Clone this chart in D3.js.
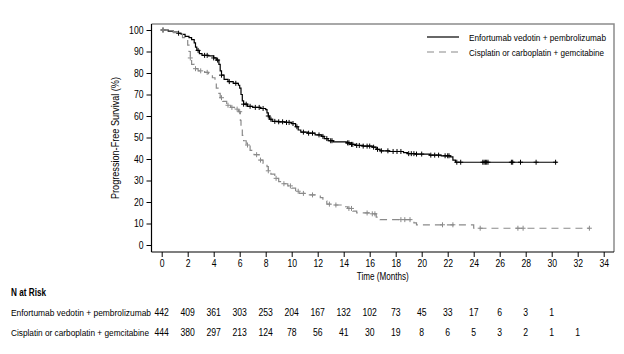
<!DOCTYPE html>
<html>
<head>
<meta charset="utf-8">
<script src="https://cdn.jsdelivr.net/npm/d3@7"></script>
<style>
  body { margin: 0; background: #fff; }
  svg text { font-family: "Liberation Sans", Arial, sans-serif; fill: #000; }
</style>
</head>
<body>
<div id="chart"></div>
<script>
// KM curves, progression-free survival

const width = 624,
    height = 354;

const seriesNames = ["Enfortumab vedotin + pembrolizumab", "Cisplatin or carboplatin + gemcitabine"];

// step points [month, survival %]
const evpSteps = [
  [0, 100], [0.5, 99.5], [0.9, 99], [1.2, 98.5], [1.5, 98], [1.8, 97], [2.1, 96.5], [2.3, 95.5],
  [2.5, 94], [2.6, 92], [2.7, 90.5], [2.9, 89], [3.1, 88.2], [3.6, 88], [4.0, 87], [4.2, 86],
  [4.4, 84], [4.5, 81], [4.6, 79], [4.8, 77], [5.1, 76], [5.5, 75.2], [5.9, 74.3], [6.0, 73],
  [6.1, 70], [6.2, 67], [6.3, 65.5], [6.6, 64.5], [7.0, 64], [7.6, 63.5], [8.0, 63], [8.1, 61.5],
  [8.2, 60], [8.3, 58.5], [8.5, 57.5], [9.0, 57.3], [9.6, 57], [10.0, 56.5], [10.3, 55], [10.5, 53.5],
  [10.7, 52.5], [11.2, 52], [11.8, 51.2], [12.3, 50.5], [12.5, 49.5], [12.8, 48.5], [13.2, 48],
  [14.2, 47.5], [14.5, 46.8], [14.9, 46.3], [15.5, 46], [16.2, 45.5], [16.5, 44.5], [16.8, 43.8],
  [17.5, 43.5], [18.6, 43], [18.9, 42.5], [19.5, 42.3], [20.6, 41.8], [21.5, 41.5], [22.2, 41],
  [22.4, 39.5], [22.6, 38.5], [30.4, 38.5]
];

const chemoSteps = [
  [0, 100], [0.5, 99.5], [0.9, 98.8], [1.3, 98], [1.6, 96.5], [1.8, 95.5], [2.0, 93], [2.1, 90],
  [2.2, 87], [2.3, 84], [2.5, 82], [2.8, 81], [3.3, 80.3], [3.6, 79.2], [3.9, 77.8], [4.1, 75.5],
  [4.2, 73], [4.4, 70.5], [4.5, 68.5], [4.7, 66.8], [5.0, 65], [5.3, 64], [5.6, 63.2], [5.9, 62],
  [6.05, 58], [6.1, 54], [6.2, 51], [6.3, 48.5], [6.5, 46.5], [6.8, 44], [7.1, 42], [7.5, 39.5],
  [7.8, 38], [8.1, 36.5], [8.2, 34.5], [8.4, 33], [8.7, 31], [9.0, 29.5], [9.3, 28.5], [9.7, 27.5],
  [10.0, 26.5], [10.3, 25], [10.6, 24], [11.2, 23.3], [12.2, 22], [12.4, 20.5], [12.7, 19],
  [13.2, 18.6], [13.8, 17.8], [14.3, 17], [14.7, 15.8], [15.0, 14.9], [16.2, 14.5], [16.5, 13],
  [16.8, 11.8], [19.2, 11.5], [19.4, 10.3], [19.6, 9.4], [24.0, 7.8], [32.9, 7.8]
];

// censored times (months)
const evpCensor = [0.1, 1.3, 2.8, 3.3, 3.5, 4.0, 4.3, 4.6, 5.2, 5.7, 6.3, 6.5, 6.8, 7.2, 7.5, 7.8,
  8.2, 8.4, 8.7, 9.0, 9.3, 9.6, 9.8, 10.1, 10.4, 10.9, 11.3, 11.6, 12.1, 12.4, 12.7, 13.0, 13.1,
  14.3, 14.4, 14.6, 14.7, 15.0, 15.2, 15.5, 15.8, 16.0, 16.3, 16.6, 16.9, 17.4, 17.8, 18.1, 18.4,
  19.0, 19.2, 19.4, 19.6, 20.0, 20.7, 21.0, 21.3, 21.8, 22.0, 22.1, 22.7, 23.0, 24.7, 24.8, 24.9,
  25.0, 25.1, 26.9, 27.0, 27.6, 28.8, 30.3];

const chemoCensor = [0.1, 2.2, 2.6, 3.0, 3.5, 4.6, 5.1, 5.4, 5.8, 6.0, 6.6, 7.3, 7.6, 8.2, 8.8,
  9.4, 9.9, 10.5, 10.9, 11.6, 12.9, 13.4, 14.4, 14.6, 15.8, 16.2, 16.4, 18.4, 18.7, 19.1, 21.6,
  22.4, 24.5, 27.4, 27.8, 32.9];

const riskTimes = d3.range(0, 34, 2);
const evpRisk = [442, 409, 361, 303, 253, 204, 167, 132, 102, 73, 45, 33, 17, 6, 3, 1];
const chemoRisk = [444, 380, 297, 213, 124, 78, 56, 41, 30, 19, 8, 6, 5, 3, 2, 1, 1];

const xTicks = d3.range(0, 35, 2);
const yTicks = d3.range(0, 101, 10);

const svg = d3.select("#chart")
    .append("svg")
    .attr("width", width)
    .attr("height", height);

const frame = { left: 151.5, right: 614, top: 24, bottom: 252 };

const x = d3.scaleLinear()
    .domain([0, 34])
    .range([161.7, 603.7]);

const y = d3.scaleLinear()
    .domain([0, 100])
    .range([245, 30]);

// squeeze a text to a narrow look (original uses a condensed face)
function narrow(sel, len) {
  sel.attr("textLength", len).attr("lengthAdjust", "spacingAndGlyphs");
}

// box (top & right in grey)
svg.append("path")
    .attr("d", `M${frame.left},${frame.top}H${frame.right}V${frame.bottom}`)
    .attr("fill", "none")
    .attr("stroke", "#8c8c8c")
    .attr("stroke-width", 1.5);

// axes
const xAxis = svg.append("g")
    .attr("transform", `translate(0,${frame.bottom})`)
    .call(d3.axisBottom(x).tickValues(xTicks).tickSize(5).tickPadding(3));
xAxis.select(".domain").attr("d", `M${frame.left},0H${frame.right}`).attr("stroke-width", 1.2);

const yAxis = svg.append("g")
    .attr("transform", `translate(${frame.left},0)`)
    .call(d3.axisLeft(y).tickValues(yTicks).tickSize(5).tickPadding(3));
yAxis.select(".domain").attr("d", `M0,${frame.top}V${frame.bottom}`).attr("stroke-width", 1.2);

svg.selectAll(".tick text")
    .attr("font-size", 10)
    .style("font-family", null)
    .each(function() {
      const t = d3.select(this);
      narrow(t, t.text().length * 4.8);
    });

svg.append("text")
    .attr("x", (frame.left + frame.right) / 2)
    .attr("y", 280)
    .attr("text-anchor", "middle")
    .attr("font-size", 10)
    .text("Time (Months)")
    .call(narrow, 52);

svg.append("text")
    .attr("transform", `translate(119,${(frame.top + frame.bottom) / 2}) rotate(-90)`)
    .attr("text-anchor", "middle")
    .attr("font-size", 10)
    .text("Progression-Free Survival (%)")
    .call(narrow, 122);

const line = d3.line()
    .x(d => x(d[0]))
    .y(d => y(d[1]))
    .curve(d3.curveStepAfter);

function survivalAt(steps, t) {
  let s = steps[0][1];
  for (const p of steps) { if (p[0] <= t) s = p[1]; }
  return s;
}

const series = [
  { steps: evpSteps, censor: evpCensor, color: "#000", dash: null, width: 1.2 },
  { steps: chemoSteps, censor: chemoCensor, color: "#8a8a8a", dash: "7,5", width: 1.2 }
];

series.forEach(s => {
  svg.append("path")
      .datum(s.steps)
      .attr("d", line)
      .attr("fill", "none")
      .attr("stroke", s.color)
      .attr("stroke-width", s.width)
      .attr("stroke-dasharray", s.dash);

  svg.append("g")
    .selectAll("path")
    .data(s.censor)
    .join("path")
      .attr("d", t => {
        const cx = x(t), cy = y(survivalAt(s.steps, t));
        return `M${cx - 2.5},${cy}H${cx + 2.5}M${cx},${cy - 2.5}V${cy + 2.5}`;
      })
      .attr("stroke", s.color)
      .attr("stroke-width", 1);
});

// legend
const legendLen = [137, 135];
const legend = svg.append("g");
series.forEach((s, i) => {
  const ly = 37 + i * 15;
  legend.append("line")
      .attr("x1", 427).attr("x2", 459)
      .attr("y1", ly).attr("y2", ly)
      .attr("stroke", s.color)
      .attr("stroke-width", 1.2)
      .attr("stroke-dasharray", s.dash);
  legend.append("text")
      .attr("x", 469)
      .attr("y", ly + 3.5)
      .attr("font-size", 9)
      .text(seriesNames[i])
      .call(narrow, legendLen[i]);
});

// number at risk table
svg.append("text")
    .attr("x", 11)
    .attr("y", 296)
    .attr("font-size", 10)
    .attr("font-weight", "bold")
    .text("N at Risk")
    .call(narrow, 35);

[evpRisk, chemoRisk].forEach((vals, i) => {
  const ry = 316 + i * 20;
  svg.append("text")
      .attr("x", 11)
      .attr("y", ry)
      .attr("font-size", 8.4)
      .text(seriesNames[i])
      .call(narrow, legendLen[i] + 3);
  svg.append("g")
    .selectAll("text")
    .data(vals)
    .join("text")
      .attr("x", (d, j) => x(riskTimes[j]))
      .attr("y", ry)
      .attr("text-anchor", "middle")
      .attr("font-size", 10)
      .text(d => d)
      .each(function(d) { narrow(d3.select(this), String(d).length * 4.8); });
});
</script>
</body>
</html>
